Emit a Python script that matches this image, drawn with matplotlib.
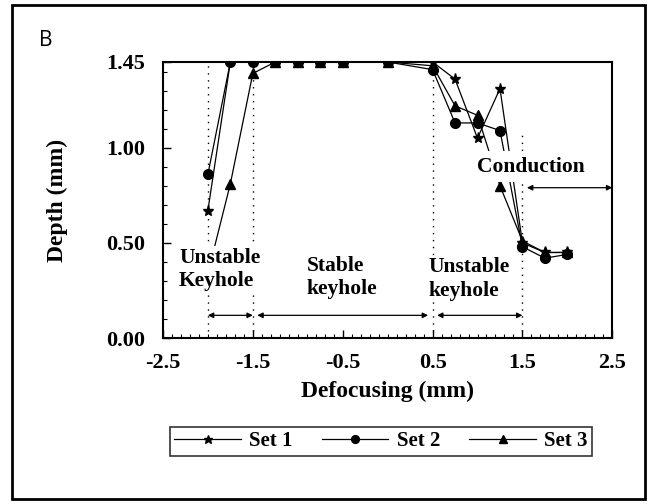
import matplotlib.pyplot as plt
from matplotlib.patches import Rectangle

# Defocusing values (mm) and weld depth (mm) for the three sets
defocus = [-2.0, -1.75, -1.5, -1.25, -1.0, -0.75, -0.5, 0.0,
           0.5, 0.75, 1.0, 1.25, 1.5, 1.75, 2.0]
set1 = [0.67, 1.45, 1.45, 1.45, 1.45, 1.45, 1.45, 1.45,
        1.45, 1.36, 1.05, 1.31, 0.50, 0.45, 0.45]
set2 = [0.86, 1.45, 1.45, 1.45, 1.45, 1.45, 1.45, 1.45,
        1.41, 1.13, 1.13, 1.09, 0.48, 0.42, 0.44]
set3 = [0.34, 0.81, 1.39, 1.45, 1.45, 1.45, 1.45, 1.45,
        1.43, 1.22, 1.17, 0.80, 0.51, 0.45, 0.45]

x_ticks = [-2.5, -1.5, -0.5, 0.5, 1.5, 2.5]
y_ticks = [0.0, 0.5, 1.0, 1.45]
y_tick_labels = ["0.00", "0.50", "1.00", "1.45"]

# regime boundaries and arrow spans
boundaries = [-2.0, -1.5, 0.5, 1.5]
regions = [(-2.0, -1.5), (-1.45, 0.45), (0.55, 1.5)]

serif = {"family": "Liberation Serif", "weight": "bold"}

fig = plt.figure(figsize=(6.57, 5.04), dpi=100)
ax = fig.add_axes([0.248, 0.329, 0.684, 0.548])

for xb in boundaries:
    top = 1.08 if xb == 1.5 else 1.45
    ax.plot([xb, xb], [0, top], linestyle=(0, (1, 4)), color="black",
            linewidth=1.0, zorder=1)

ax.plot(defocus, set1, color="black", linewidth=0.9, marker="*",
        markersize=8, label="Set 1", zorder=2)
ax.plot(defocus, set2, color="black", linewidth=0.9, marker="o",
        markersize=7, label="Set 2", zorder=2)
ax.plot(defocus, set3, color="black", linewidth=0.9, marker="^",
        markersize=7, label="Set 3", zorder=2)

box = dict(facecolor="white", edgecolor="none", pad=1)
ax.text(-2.32, 0.36, "Unstable\nKeyhole", fontsize=15.5, ha="left",
        va="center", linespacing=1.25, bbox=box, zorder=4, **serif)
ax.text(-0.9, 0.32, "Stable\nkeyhole", fontsize=15.5, ha="left",
        va="center", linespacing=1.2, bbox=box, zorder=4, **serif)
ax.text(0.45, 0.31, "Unstable\nkeyhole", fontsize=15.5, ha="left",
        va="center", linespacing=1.25, bbox=box, zorder=4, **serif)
ax.text(1.59, 0.90, "Conduction", fontsize=15.5, ha="center",
        va="center", bbox=dict(facecolor="white", edgecolor="none", pad=4),
        zorder=4, **serif)

arrow = dict(arrowstyle="<|-|>", color="black", linewidth=0.9,
             mutation_scale=8, shrinkA=0, shrinkB=0)
for x0, x1 in regions:
    ax.annotate("", xy=(x0, 0.12), xytext=(x1, 0.12), arrowprops=arrow)
ax.annotate("", xy=(1.55, 0.79), xytext=(2.5, 0.79), arrowprops=arrow,
            zorder=5)

ax.set_xlim(-2.5, 2.5)
ax.set_ylim(0, 1.45)
ax.set_xticks(x_ticks)
ax.set_xticklabels([f"{v:.1f}" for v in x_ticks])
ax.set_yticks(y_ticks)
ax.set_yticklabels(y_tick_labels)
ax.set_xticks([i / 10 for i in range(-25, 26)], minor=True)
ax.set_yticks([i / 10 for i in range(0, 15)], minor=True)
ax.tick_params(which="both", direction="in", color="black")
ax.tick_params(which="major", length=6, width=1)
ax.tick_params(axis="x", which="major", pad=11)
ax.tick_params(axis="y", which="major", pad=13)
ax.tick_params(which="minor", length=3, width=0.8)
for lab in ax.get_xticklabels() + ax.get_yticklabels():
    lab.set_fontfamily("Liberation Serif")
    lab.set_fontweight("bold")
    lab.set_fontsize(16)
for sp in ax.spines.values():
    sp.set_linewidth(1.5)

ax.set_xlabel("Defocusing (mm)", fontsize=17, labelpad=5, **serif)
ax.set_ylabel("Depth (mm)", fontsize=17, labelpad=27, **serif)

leg = fig.legend(loc="center", bbox_to_anchor=(381 / 657, 1 - 441.5 / 504),
                 ncol=3, frameon=True, fancybox=False, edgecolor="black",
                 handlelength=3.2, handletextpad=0.4, columnspacing=1.4,
                 borderpad=0.2, markerscale=0.8,
                 prop={"family": "Liberation Serif", "weight": "bold",
                       "size": 15})
leg.get_frame().set_linewidth(1.2)

fig.text(46 / 657, 1 - 41 / 504, "B", fontsize=15, ha="center",
         va="center", family="Open Sans")
fig.patches.append(Rectangle((12 / 657, 5 / 504), 633 / 657, 494 / 504,
                             transform=fig.transFigure, fill=False,
                             edgecolor="black", linewidth=2))

fig.savefig("out.png", dpi=100)
